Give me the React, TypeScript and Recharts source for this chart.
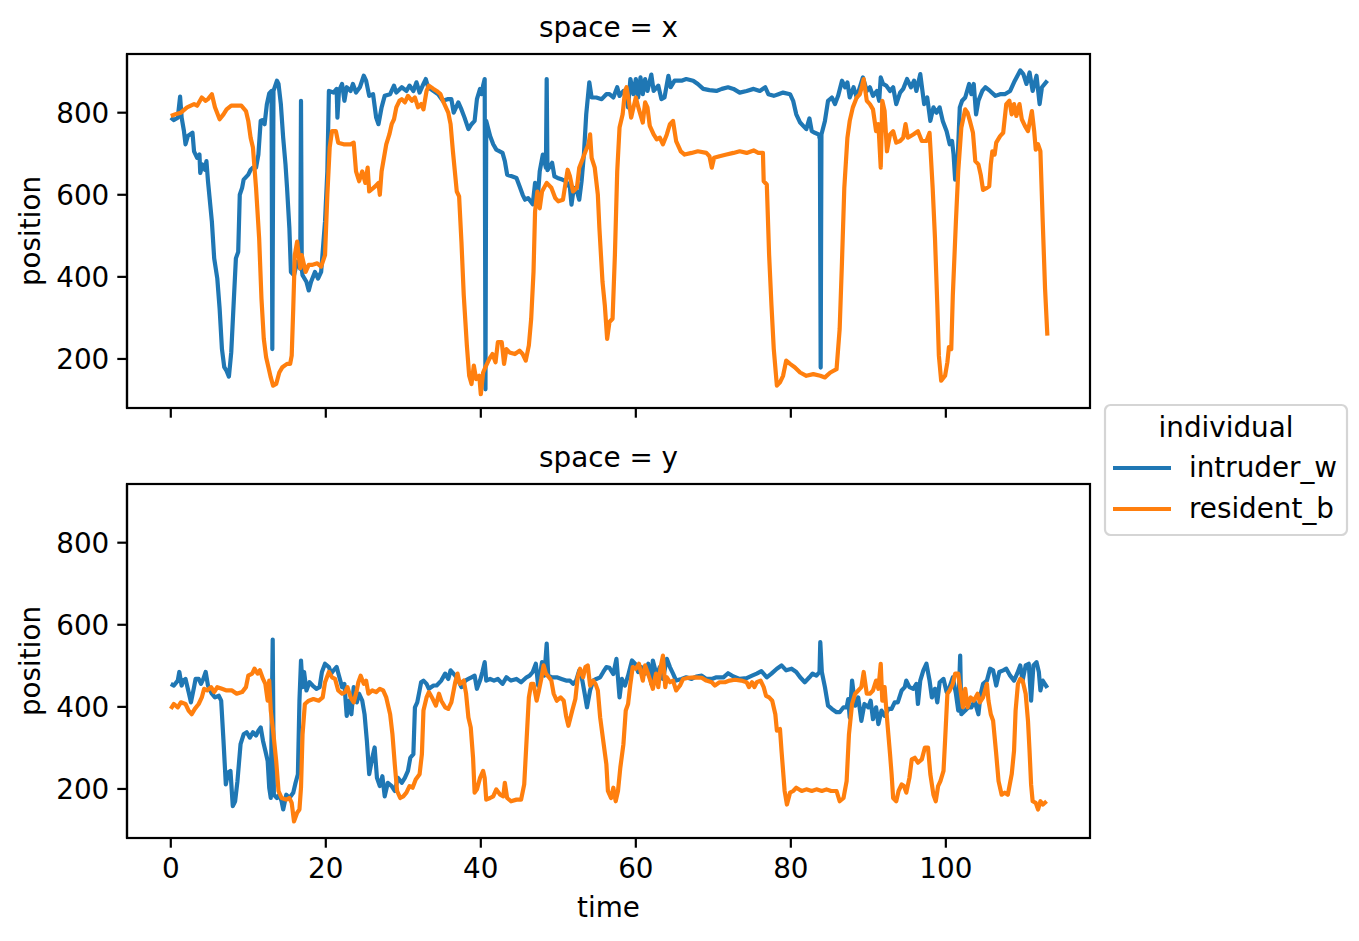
import React from 'react';
import { LineChart, Line, XAxis, YAxis } from 'recharts';

const FONT = '"DejaVu Sans", sans-serif';
const FS = 27.8;
const BLUE = '#1f77b4';
const ORANGE = '#ff7f0e';

const timeTicks = [0, 20, 40, 60, 80, 100];
const positionTicks = [200, 400, 600, 800];
const timeDomain: [number, number] = [-5.65, 118.6];
const positionDomain: [number, number] = [80.5, 943];
const seriesNames = ['intruder_w', 'resident_b'];
const panelTitles = ['space = x', 'space = y'];
const axisLabels = { x: 'time', y: 'position', legend: 'individual' };

// space = x, intruder_w  [time, position]
const xIntruder: [number, number][] = [
  [0,788],[0.4,782],[0.9,788],[1.2,839],[1.4,788],[1.7,755],[1.9,723],[2.2,743],[2.8,751],[3.0,706],[3.4,690],[3.7,698],[3.8,653],[4.1,674],[4.4,661],[4.6,682],[4.8,633],[5.3,535],[5.6,445],[6.0,396],[6.3,323],[6.6,224],[6.9,180],[7.2,171],[7.5,157],[7.8,216],[8.1,331],[8.4,445],[8.7,461],[8.9,600],[9.2,617],[9.4,637],[10.0,649],[10.3,661],[10.6,666],[11.0,666],[11.3,698],[11.6,780],[11.8,782],[12.1,772],[12.4,821],[12.7,847],[13.0,853],[13.1,224],[13.25,853],[13.7,878],[13.9,870],[14.2,821],[14.5,739],[14.8,674],[15.0,617],[15.3,519],[15.5,412],[15.9,404],[16.3,437],[16.7,420],[16.8,829],[16.9,420],[17.0,404],[17.5,388],[17.8,367],[18.1,388],[18.6,412],[19.0,396],[19.4,412],[19.9,535],[20.2,657],[20.4,853],[21.0,849],[21.4,858],[21.5,788],[21.7,853],[22.1,870],[22.4,829],[22.7,862],[23.2,853],[23.5,870],[23.9,849],[24.4,862],[24.9,890],[25.2,878],[25.6,841],
  [26.1,845],[26.5,788],[26.8,772],[27.2,813],[27.6,841],[28.3,845],[28.8,866],[29.1,849],[29.8,862],[30.4,853],[30.8,866],[31.3,853],[31.7,874],[32.1,849],[32.6,870],[32.9,882],[33.2,862],[33.9,853],[34.5,845],[35.1,829],[35.7,833],[36.2,833],[36.5,800],[37.1,825],[37.5,808],[37.9,788],[38.4,760],[38.8,772],[39.2,780],[39.5,833],[39.9,858],[40.1,845],[40.3,866],[40.5,882],[40.6,126],[40.7,780],[41.2,743],[41.6,723],[42.0,710],[42.8,702],[43.1,682],[43.4,649],[44.0,645],[44.6,641],[45.0,621],[45.4,600],[45.7,588],[46.1,592],[46.7,577],[47.0,629],[47.3,580],[47.6,657],[48.0,698],[48.4,666],[48.5,882],[48.6,660],[49.2,678],[49.5,645],[49.9,641],[50.5,637],[51.0,633],[51.5,617],[51.7,576],[52.0,617],[52.4,608],[52.7,588],[53.0,633],[53.3,698],[53.6,796],[54.0,874],[54.3,837],[54.9,837],[55.6,833],[56.2,845],[56.6,845],[57.1,837],[57.6,862],[57.9,841],
  [58.4,853],[58.8,837],[59.0,813],[59.3,882],[59.7,845],[60.0,882],[60.3,837],[60.6,886],[60.9,845],[61.2,882],[61.5,853],[62.0,893],[62.3,853],[62.9,866],[63.3,833],[63.7,837],[64.2,890],[64.5,862],[65.0,878],[65.9,878],[66.5,882],[67.4,878],[68.0,870],[68.7,858],[69.5,855],[70.4,853],[71.1,858],[71.9,862],[72.6,858],[73.4,849],[74.3,853],[75.2,858],[76.0,853],[76.7,862],[77.1,845],[77.8,841],[78.4,845],[79.0,849],[79.9,845],[80.3,829],[80.7,796],[81.2,776],[81.6,768],[82.0,760],[82.4,786],[82.7,755],[83.1,751],[83.6,747],[83.75,735],[83.85,179],[83.95,747],[84.4,780],[84.8,829],[85.3,837],[85.7,821],[86.1,841],[86.6,878],[87.0,862],[87.3,874],[87.6,837],[88.1,862],[88.5,837],[88.9,862],
  [89.3,886],[89.8,853],[90.2,862],[90.6,841],[91.1,853],[91.4,829],[91.6,886],[91.9,870],[92.3,866],[92.8,853],[93.2,862],[93.6,821],[94.1,849],[94.5,858],[95.0,882],[95.5,862],[95.9,878],[96.2,853],[96.7,894],[97.2,821],[97.6,837],[98.0,780],[98.4,813],[98.8,800],[99.2,813],[99.6,780],[100.1,755],[100.5,723],[100.8,731],[101.0,698],[101.2,637],[101.5,674],[101.8,813],[102.1,829],[102.5,837],[103.0,870],[103.3,845],[103.6,870],[103.9,796],[104.2,829],[104.7,853],[105.1,862],[105.7,853],[106.4,841],[107.0,845],[107.6,845],[108.3,853],[108.9,878],[109.6,903],[110.0,894],[110.4,870],[110.8,898],[111.2,853],[111.7,890],[112.1,821],[112.4,862],[113.1,878],
];

// space = x, resident_b
const xResident: [number, number][] = [
  [0,792],[0.6,796],[1.3,800],[2.1,813],[3.0,821],[3.4,817],[4.0,837],[4.5,829],[4.8,833],[5.3,845],[5.7,813],[6.3,784],[6.8,796],[7.2,808],[7.8,817],[8.5,817],[9.1,817],[9.7,804],[10.0,780],[10.3,739],[10.6,715],[11.0,617],[11.4,494],[11.7,347],[12.0,249],[12.3,204],[12.6,180],[12.9,155],[13.2,135],[13.6,139],[14.0,167],[14.4,180],[15.0,188],[15.4,188],[15.6,208],[15.8,323],[16.0,453],[16.3,486],[16.7,421],[16.9,453],[17.4,412],[17.8,429],[18.2,429],[18.9,433],[19.4,425],[19.9,453],[20.2,600],[20.5,715],[20.8,755],[21.3,755],[21.6,727],[22.3,723],[23.2,723],[23.6,727],[23.9,657],[24.3,633],[24.7,657],[25.1,629],[25.4,666],[25.6,608],[26.3,619],[26.8,629],[26.97,600],
  [27.2,657],[27.5,690],[27.8,723],[28.2,747],[28.5,772],[28.8,784],[29.1,813],[29.5,829],[29.8,833],[30.2,825],[30.6,841],[31.1,829],[31.5,837],[31.9,813],[32.3,821],[32.6,808],[33.0,853],[33.3,866],[33.9,858],[34.3,853],[34.8,845],[35.2,825],[35.8,800],[36.1,772],[36.4,706],[36.9,608],[37.2,596],[37.5,486],[37.8,355],[38.2,233],[38.5,159],[38.8,139],[39.1,184],[39.4,151],[39.8,159],[40.0,114],[40.3,167],[40.6,180],[41.1,200],[41.5,212],[41.9,192],[42.2,241],[42.7,241],[43.0,188],[43.3,224],[43.7,216],[44.4,212],[45.0,220],[45.4,212],[45.8,196],[46.2,233],[46.5,298],[46.8,412],[47.0,559],[47.3,608],[47.6,567],[47.9,608],[48.5,629],[49.1,617],[49.6,592],[50.0,584],[50.6,588],[51.2,661],[51.5,645],[51.9,608],[52.4,617],[52.7,666],[53.2,690],[53.6,710],[53.9,723],[54.1,747],[54.3,690],[54.7,666],[55.1,600],[55.3,519],[55.7,388],[56.0,331],[56.3,249],[56.6,290],[57.0,298],[57.3,453],[57.6,657],[57.9,764],
  [58.3,796],[58.6,853],[58.8,862],[59.1,829],[59.4,788],[59.7,813],[60.0,837],[60.4,808],[60.9,776],[61.2,825],[61.5,813],[61.8,768],[62.3,747],[62.7,735],[63.1,739],[63.5,723],[64.0,747],[64.4,772],[64.8,780],[65.2,731],[65.8,706],[66.3,698],[67.2,702],[68.0,706],[69.1,702],[69.5,694],[69.8,666],[70.1,690],[70.8,694],[71.7,698],[72.6,702],[73.4,706],[74.3,702],[75.2,708],[75.8,702],[76.4,702],[76.5,633],[76.9,625],[77.2,453],[77.5,331],[77.8,224],[78.2,135],[78.6,143],[79.0,159],[79.4,196],[79.9,188],[80.5,180],[81.2,167],[82.0,159],[82.9,163],[83.8,159],[84.4,155],[85.1,167],[85.9,175],[86.3,273],[86.6,437],[86.9,617],[87.3,739],[87.6,780],
  [88.0,813],[88.5,837],[88.9,845],[89.2,866],[89.4,882],[89.8,829],[90.2,821],[90.6,808],[91.0,755],[91.3,772],[91.6,666],[91.8,829],[92.1,804],[92.4,706],[92.8,747],[93.2,755],[93.6,727],[94.1,731],[94.5,739],[94.8,772],[95.1,739],[95.8,747],[96.4,755],[96.9,731],[97.5,731],[97.9,751],[98.3,617],[98.6,494],[98.9,331],[99.1,208],[99.4,147],[99.9,159],[100.2,192],[100.4,229],[100.7,224],[100.9,355],[101.3,535],[101.6,657],[102.0,764],[102.5,808],[102.8,800],[103.1,780],[103.5,751],[103.8,682],[104.2,674],[104.5,649],[104.8,612],[105.3,617],[105.6,621],[105.8,674],[106.0,706],[106.3,698],[106.5,727],[107.0,743],[107.4,751],[107.8,821],[108.2,829],[108.5,796],[108.8,821],[109.1,792],[109.5,821],[109.8,784],[110.2,768],[110.6,755],[111.1,804],[111.4,755],[111.6,710],[111.9,723],[112.2,706],[112.5,535],[112.8,372],[113.1,257],
];

// space = y, intruder_w
const yIntruder: [number, number][] = [
  [0,456],[0.4,452],[0.9,464],[1.1,485],[1.4,452],[1.6,464],[1.9,468],[2.3,436],[2.6,411],[3.0,448],[3.2,468],[3.6,468],[3.9,456],[4.2,468],[4.5,485],[4.8,452],[5.3,432],[5.7,423],[6.2,427],[6.5,415],[6.8,317],[7.1,211],[7.4,240],[7.7,244],[8.0,158],[8.3,170],[8.6,219],[9.0,309],[9.4,333],[9.8,338],[10.2,325],[10.6,338],[11.0,330],[11.3,342],[11.6,350],[11.9,317],[12.2,293],[12.5,268],[12.7,203],[12.9,178],[13.15,564],[13.3,186],[13.7,178],[14.0,186],[14.3,170],[14.5,150],[14.9,186],[15.3,178],[15.8,191],[16.1,215],[16.4,236],[16.6,415],[16.8,513],[17.0,448],[17.2,485],[17.5,440],[17.9,460],[18.3,452],[18.8,444],[19.2,448],[19.5,485],[19.9,505],[20.4,497],[20.7,481],[21.0,489],[21.4,497],[21.7,476],[22.1,448],[22.4,456],[22.7,378],[23.0,415],[23.3,382],[23.6,448],[24.0,411],[24.3,432],[24.7,415],[25.0,382],[25.3,317],[25.6,236],[26.0,276],[26.3,301],[26.6,227],
  [26.97,207],[27.3,231],[27.6,182],[28.0,215],[28.5,207],[28.9,195],[29.3,227],[29.8,215],[30.2,227],[30.6,244],[30.9,276],[31.3,285],[31.5,399],[31.8,411],[32.1,440],[32.3,460],[32.6,464],[33.0,456],[33.3,444],[33.9,452],[34.3,452],[34.9,464],[35.4,481],[35.8,468],[36.1,489],[36.7,476],[37.1,464],[37.5,448],[38.0,464],[38.4,468],[38.8,472],[39.2,476],[39.5,444],[39.9,464],[40.2,485],[40.5,509],[40.7,464],[41.2,468],[41.7,464],[42.2,468],[42.8,456],[43.3,472],[43.9,464],[44.6,468],[45.2,460],[45.9,472],[46.3,476],[46.7,485],[47.1,505],[47.4,452],[47.7,485],[47.9,509],[48.2,476],[48.5,554],[48.7,476],[49.2,472],[49.8,472],[50.4,468],[51.0,464],[51.5,464],[51.9,456],[52.3,464],[52.7,489],[53.1,464],[53.4,432],[53.7,399],[54.1,440],[54.5,464],[54.9,468],[55.4,472],[55.8,485],[56.2,497],[56.6,495],[57.1,480],[57.5,517],[57.9,423],
  [58.2,468],[58.6,452],[59.0,476],[59.5,513],[59.9,505],[60.3,485],[60.7,497],[61.2,481],[61.6,505],[62.0,456],[62.2,513],[62.7,476],[63.1,497],[63.5,468],[64.0,517],[64.4,497],[64.8,481],[65.2,464],[65.9,468],[66.5,472],[67.2,468],[67.8,474],[68.5,476],[69.1,468],[69.8,468],[70.4,472],[71.3,472],[71.9,482],[72.6,474],[73.4,468],[74.3,470],[75.0,476],[75.6,481],[76.2,487],[76.9,472],[77.5,481],[78.2,493],[78.8,501],[79.4,489],[80.1,493],[80.7,485],[81.2,472],[81.8,460],[82.4,472],[82.8,481],[83.3,476],[83.7,485],[83.8,558],[84.0,485],[84.4,448],[84.8,403],[85.3,395],[85.9,387],[86.3,387],[86.8,399],[87.2,399],[87.4,419],[87.6,374],[87.9,464],[88.3,403],
  [88.7,423],[89.1,366],[89.5,407],[90.0,399],[90.3,415],[90.6,370],[91.0,399],[91.3,358],[91.7,391],[92.1,378],[92.6,395],[93.0,395],[93.4,411],[93.8,411],[94.3,440],[94.7,448],[94.9,464],[95.3,448],[95.8,444],[96.2,456],[96.4,407],[96.7,464],[97.1,489],[97.5,505],[97.9,464],[98.2,423],[98.6,444],[98.9,411],[99.2,460],[99.7,468],[100.1,436],[100.4,444],[100.9,472],[101.3,432],[101.6,391],[101.85,525],[102.0,382],[102.5,391],[102.9,399],[103.3,399],[103.7,415],[104.2,382],[104.5,432],[104.8,456],[105.3,464],[105.7,493],[106.1,489],[106.5,452],[106.9,485],[107.4,489],[107.8,493],[108.3,476],[108.8,464],[109.2,481],[109.6,501],[109.9,464],[110.3,501],[110.7,505],[111.0,415],[111.3,501],[111.7,509],[112.0,485],[112.2,440],[112.5,464],[113.1,446],
];

// space = y, resident_b
const yResident: [number, number][] = [
  [0,395],[0.4,407],[0.9,399],[1.3,411],[1.9,407],[2.3,391],[2.7,382],[3.1,395],[3.6,407],[4.0,423],[4.3,444],[4.7,440],[5.2,448],[5.6,436],[6.0,448],[6.6,444],[7.2,440],[7.9,440],[8.5,432],[9.2,436],[9.7,448],[10.0,476],[10.5,481],[10.8,493],[11.2,481],[11.5,489],[11.9,468],[12.2,456],[12.5,415],[12.7,464],[12.9,391],[13.2,342],[13.6,268],[13.9,195],[14.3,178],[14.9,174],[15.3,178],[15.6,166],[15.9,121],[16.3,142],[16.6,150],[16.8,203],[17.0,333],[17.3,407],[17.8,415],[18.4,419],[19.1,415],[19.6,423],[19.9,460],[20.4,485],[20.8,472],[21.2,468],[21.6,440],[22.1,432],[22.5,436],[22.8,448],[23.2,423],[23.6,411],[24.0,440],[24.2,460],[24.5,476],[24.9,456],[25.2,464],[25.5,432],[26.0,440],[26.5,436],
  [26.97,444],[27.4,440],[27.8,423],[28.3,382],[28.6,333],[28.9,260],[29.2,195],[29.6,178],[30.0,182],[30.4,191],[30.8,207],[31.2,203],[31.6,223],[32.1,236],[32.4,285],[32.6,391],[33.0,423],[33.3,436],[33.8,419],[34.2,403],[34.6,432],[34.9,415],[35.4,399],[35.8,395],[36.2,411],[36.7,460],[37.0,481],[37.3,456],[37.8,464],[38.1,432],[38.4,374],[38.7,350],[39.0,276],[39.2,191],[39.5,199],[39.9,227],[40.3,244],[40.5,227],[40.7,174],[41.2,178],[41.6,182],[42.0,199],[42.5,186],[42.9,182],[43.1,215],[43.4,178],[43.9,170],[44.6,174],[45.2,174],[45.6,211],[45.9,317],[46.2,423],[46.5,456],[46.8,456],[47.2,415],[47.5,440],[47.8,468],[48.1,501],[48.4,481],[48.8,472],[49.1,464],[49.4,432],[49.8,415],[50.3,423],[50.7,415],[51.0,378],[51.3,354],[51.8,391],[52.2,419],[52.5,472],[52.8,493],[53.2,472],[53.5,497],[53.8,501],[54.1,452],[54.5,464],[54.8,456],[55.1,440],[55.4,374],[55.8,317],[56.2,260],[56.4,195],[56.8,178],[57.1,203],[57.4,170],[57.7,195],
  [58.0,252],[58.4,309],[58.7,391],[59.0,407],[59.3,456],[59.6,497],[60.0,493],[60.4,505],[60.9,464],[61.2,501],[61.5,485],[61.8,468],[62.2,444],[62.6,481],[62.9,448],[63.2,497],[63.5,525],[63.8,448],[64.0,472],[64.4,460],[64.8,464],[65.2,440],[65.7,452],[66.1,468],[66.8,471],[67.6,472],[68.5,471],[69.1,464],[69.8,460],[70.2,452],[70.8,460],[71.5,460],[72.1,464],[72.8,466],[73.6,464],[74.3,460],[74.6,448],[75.0,460],[75.3,448],[75.6,460],[76.1,464],[76.5,448],[76.8,427],[77.2,423],[77.6,415],[78.0,382],[78.2,342],[78.6,346],[78.8,293],[79.0,244],[79.2,195],[79.5,162],[79.9,191],[80.3,195],[80.7,203],[81.4,195],[82.0,199],[82.7,195],[83.3,199],[84.0,195],[84.6,199],[85.2,195],[85.9,195],[86.3,170],[86.8,178],[87.2,219],[87.5,333],[87.9,407],
  [88.3,432],[88.7,440],[89.1,448],[89.4,485],[89.8,432],[90.2,432],[90.6,440],[91.0,464],[91.3,444],[91.6,505],[91.8,415],[92.1,448],[92.4,374],[92.8,285],[93.0,236],[93.2,178],[93.6,170],[93.9,195],[94.3,211],[94.6,207],[94.9,191],[95.3,227],[95.6,272],[96.0,276],[96.4,264],[96.9,272],[97.3,301],[97.7,301],[98.0,236],[98.4,186],[98.7,170],[99.0,207],[99.3,219],[99.7,244],[99.9,317],[100.2,432],[100.5,440],[100.9,456],[101.2,481],[101.6,481],[101.9,440],[102.2,399],[102.5,444],[102.8,399],[103.2,423],[103.6,415],[104.1,432],[104.4,411],[104.8,423],[105.3,456],[105.5,415],[105.8,382],[106.1,366],[106.5,285],[106.8,219],[107.2,186],[107.6,191],[108.0,186],[108.5,236],[108.8,293],[109.0,391],[109.3,456],[109.6,468],[109.9,464],[110.3,432],[110.6,366],[110.8,293],[111.0,211],[111.2,170],[111.6,166],[111.9,150],[112.2,170],[112.5,162],[113.0,170],
];

type Row = { t: number; a?: number; b?: number };

function mergeSeries(a: [number, number][], b: [number, number][]): Row[] {
  const map = new Map<number, Row>();
  a.forEach(([t, v]) => {
    const r = map.get(t) || { t };
    r.a = v;
    map.set(t, r);
  });
  b.forEach(([t, v]) => {
    const r = map.get(t) || { t };
    r.b = v;
    map.set(t, r);
  });
  return Array.from(map.values()).sort((p, q) => p.t - q.t);
}

const xRows = mergeSeries(xIntruder, xResident);
const yRows = mergeSeries(yIntruder, yResident);

const spine = { stroke: '#000', strokeWidth: 2.2 };
const tickStyle = { fill: '#000', fontSize: FS, fontFamily: FONT };

// plot-area frame (top/right spines), matching the chart margins below
const PLOT_LEFT = 127;
const PLOT_RIGHT = 1090;
const PANEL_TOPS = [54, 484];
const PLOT_H = 354;

function Panel({ rows, showTimeLabels, height }: { rows: Row[]; showTimeLabels: boolean; height: number }) {
  const xAxisHeight = showTimeLabels ? 60 : 20;
  return (
    <LineChart
      width={1359}
      height={height}
      data={rows}
      margin={{ top: 54, right: 1359 - PLOT_RIGHT, bottom: height - 54 - PLOT_H - xAxisHeight, left: 0 }}
    >
      <XAxis
        dataKey="t"
        type="number"
        domain={timeDomain}
        ticks={timeTicks}
        interval={0}
        allowDataOverflow
        height={xAxisHeight}
        axisLine={spine}
        tickLine={spine}
        tickSize={9.7}
        tickMargin={11}
        tick={tickStyle}
        tickFormatter={showTimeLabels ? (v: number) => String(v) : () => ''}
      />
      <YAxis
        type="number"
        domain={positionDomain}
        ticks={positionTicks}
        interval={0}
        allowDataOverflow
        width={PLOT_LEFT}
        axisLine={spine}
        tickLine={spine}
        tickSize={9.7}
        tickMargin={8}
        tick={tickStyle}
      />
      <Line
        dataKey="a"
        name={seriesNames[0]}
        type="linear"
        stroke={BLUE}
        strokeWidth={4.2}
        strokeLinejoin="round"
        dot={false}
        activeDot={false}
        connectNulls
        isAnimationActive={false}
      />
      <Line
        dataKey="b"
        name={seriesNames[1]}
        type="linear"
        stroke={ORANGE}
        strokeWidth={4.2}
        strokeLinejoin="round"
        dot={false}
        activeDot={false}
        connectNulls
        isAnimationActive={false}
      />
    </LineChart>
  );
}

export default function App() {
  const textProps = { fontFamily: FONT, fontSize: FS, fill: '#000' };
  return (
    <div style={{ position: 'absolute', left: 0, top: 0, width: 1359, height: 941, background: '#fff', fontFamily: FONT }}>
      <div style={{ position: 'absolute', left: 0, top: 0 }}>
        <Panel rows={xRows} showTimeLabels={false} height={470} />
      </div>
      <div style={{ position: 'absolute', left: 0, top: 430 }}>
        <Panel rows={yRows} showTimeLabels={true} height={511} />
      </div>
      <svg
        width={1359}
        height={941}
        style={{ position: 'absolute', left: 0, top: 0, pointerEvents: 'none' }}
      >
        {PANEL_TOPS.map((top) => (
          <rect
            key={top}
            x={PLOT_LEFT}
            y={top}
            width={PLOT_RIGHT - PLOT_LEFT}
            height={PLOT_H}
            fill="none"
            stroke="#000"
            strokeWidth={2.2}
          />
        ))}
        <text x={608.5} y={37.3} textAnchor="middle" {...textProps}>{panelTitles[0]}</text>
        <text x={608.5} y={467.3} textAnchor="middle" {...textProps}>{panelTitles[1]}</text>
        <text transform="translate(40,231) rotate(-90)" textAnchor="middle" {...textProps}>{axisLabels.y}</text>
        <text transform="translate(40,661) rotate(-90)" textAnchor="middle" {...textProps}>{axisLabels.y}</text>
        <text x={608.5} y={917} textAnchor="middle" {...textProps}>{axisLabels.x}</text>
        <rect x={1105} y={405} width={242} height={130} rx={5.6} ry={5.6} fill="#fff" stroke="#d5d5d5" strokeWidth={2.2} />
        <text x={1226} y={436.7} textAnchor="middle" {...textProps}>{axisLabels.legend}</text>
        <line x1={1113} y1={468} x2={1171} y2={468} stroke={BLUE} strokeWidth={4.2} />
        <line x1={1113} y1={509} x2={1171} y2={509} stroke={ORANGE} strokeWidth={4.2} />
        <text x={1189} y={477} {...textProps}>{seriesNames[0]}</text>
        <text x={1189} y={518} {...textProps}>{seriesNames[1]}</text>
      </svg>
    </div>
  );
}
